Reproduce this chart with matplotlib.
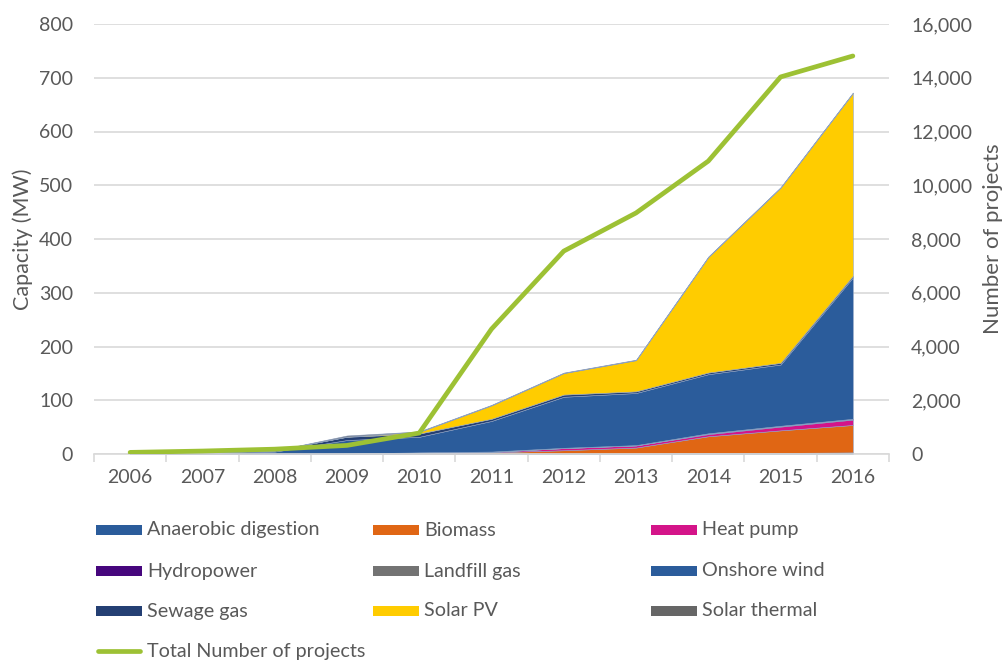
import matplotlib
matplotlib.use('Agg')
import matplotlib.pyplot as plt
import numpy as np
from matplotlib.lines import Line2D
from matplotlib.patches import Rectangle
from matplotlib.ticker import FuncFormatter, MultipleLocator

plt.rcParams['font.family'] = ['Lato', 'DejaVu Sans']

years = ['2006', '2007', '2008', '2009', '2010', '2011', '2012', '2013', '2014', '2015', '2016']

anaerobic = [0, 0, 0, 0, 0, 1, 1, 1, 2, 2, 3]
biomass = [0, 0, 0, 0, 1, 2, 6, 11, 31, 42, 51]
heat_pump = [0, 0, 0, 0, 1, 1, 4, 4, 4, 7, 10]
hydropower = [0, 0, 0, 0, 0, 0, 0, 0, 1, 1, 1]
landfill = [0, 0, 0.5, 1, 1, 0.5, 0.5, 0.5, 0.5, 0.5, 0.5]
onshore_wind = [0.5, 2, 4, 25, 29, 57, 95, 97, 110, 114, 263]
sewage = [0.5, 1, 2, 6, 6, 4, 4, 3, 3, 3, 3]
solar_pv = [0, 0, 0, 0.5, 3, 25, 40, 58, 215, 326, 340]
solar_thermal = [0, 0, 0, 2, 1, 1, 1, 1, 1, 1, 1]

projects = [60, 110, 180, 320, 780, 4650, 7550, 8970, 10900, 14030, 14810]

series = [
    ('Anaerobic digestion', anaerobic, '#2b5c9b'),
    ('Biomass', biomass, '#e06614'),
    ('Heat pump', heat_pump, '#d41489'),
    ('Hydropower', hydropower, '#46067d'),
    ('Landfill gas', landfill, '#737373'),
    ('Onshore wind', onshore_wind, '#2b5c9b'),
    ('Sewage gas', sewage, '#243f73'),
    ('Solar PV', solar_pv, '#ffcc00'),
    ('Solar thermal', solar_thermal, '#666666'),
]
line_label = 'Total Number of projects'
line_color = '#9dc134'
text_color = '#595959'
grid_color = '#d9d9d9'

fig = plt.figure(figsize=(10.05, 6.62), dpi=100)
ax = fig.add_axes([94 / 1005, 1 - 454 / 662, 795 / 1005, 430 / 662])
x = np.arange(len(years))

ax.stackplot(x, *[s[1] for s in series], colors=[s[2] for s in series],
             linewidth=0.4, edgecolor='#8fa3c4')
ax.set_xlim(-0.5, len(years) - 0.5)
ax.set_ylim(0, 800)
ax.yaxis.set_major_locator(MultipleLocator(100))
ax.grid(axis='y', color=grid_color, linewidth=1.2)
ax.set_axisbelow(True)
for side in ['top', 'right', 'left']:
    ax.spines[side].set_visible(False)
ax.spines['bottom'].set_color(grid_color)
ax.spines['bottom'].set_linewidth(1.2)

ax.set_xticks(x)
ax.set_xticklabels(years)
ax.set_xticks(np.arange(-0.5, len(years)), minor=True)
ax.tick_params(axis='x', which='major', length=0, pad=11, labelsize=14, labelcolor=text_color)
ax.tick_params(axis='x', which='minor', length=6, color=grid_color, width=1.2)
ax.tick_params(axis='y', length=0, pad=15, labelsize=14, labelcolor=text_color)
ax.set_ylabel('Capacity (MW)', fontsize=15.5, color=text_color, labelpad=4)

ax2 = ax.twinx()
ax2.plot(x, projects, color=line_color, linewidth=3.4, solid_capstyle='round', zorder=5)
ax2.set_ylim(0, 16000)
ax2.yaxis.set_major_locator(MultipleLocator(2000))
ax2.yaxis.set_major_formatter(FuncFormatter(lambda v, p: f'{int(v):,}'))
ax2.tick_params(axis='y', length=0, pad=16, labelsize=14, labelcolor=text_color)
for side in ['top', 'right', 'left', 'bottom']:
    ax2.spines[side].set_visible(False)
ax2.set_ylabel('Number of projects', fontsize=16, color=text_color, labelpad=8)

# legend, three equal columns like the original
col_x = [96, 373, 651]
row_y = [530, 571, 611, 651]
W, H = 1005, 662
for i, (name, _, color) in enumerate(series):
    cx = col_x[i % 3]
    cy = row_y[i // 3]
    fig.add_artist(Rectangle((cx / W, 1 - (cy + 5) / H), 46 / W, 10 / H,
                             facecolor=color, edgecolor='none', transform=fig.transFigure))
    fig.text((cx + 51) / W, 1 - cy / H, name, fontsize=14.2, color=text_color,
             va='center', ha='left')
cy = row_y[3]
fig.add_artist(Line2D([(col_x[0] + 2) / W, (col_x[0] + 44) / W], [1 - cy / H, 1 - cy / H],
                      color=line_color, linewidth=3.4, solid_capstyle='round',
                      transform=fig.transFigure))
fig.text((col_x[0] + 51) / W, 1 - cy / H, line_label, fontsize=14.2, color=text_color,
         va='center', ha='left')

fig.savefig('out.png', dpi=100)
